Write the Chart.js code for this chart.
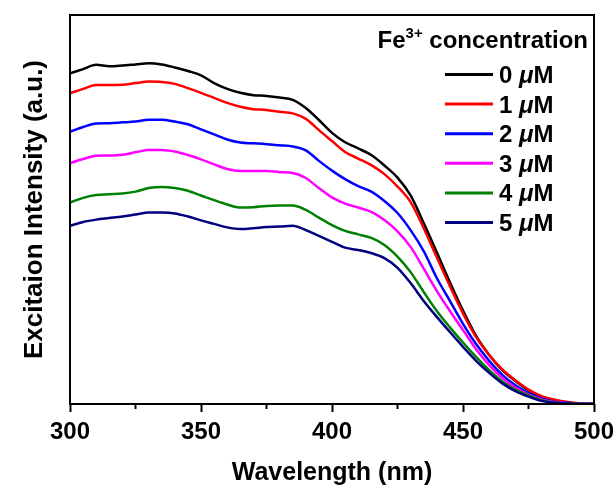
<!DOCTYPE html>
<html>
<head>
  <title>Fe3+ excitation spectra</title>
  <script src="https://cdn.jsdelivr.net/npm/chart.js"></script>
  <style>
    body {
      margin: 0;
      background: #ffffff;
    }
    .chart-container {
      position: relative;
      width: 614px;
      height: 486px;
    }
  </style>
</head>
<body>
  <div class="chart-container">
    <canvas id="spectraChart"></canvas>
  </div>

  <script>
    // Wavelength grid (nm)
    const wavelengths = [
      300, 305, 310, 315, 320, 325, 330, 335, 340, 345,
      350, 355, 360, 365, 370, 375, 380, 385, 390, 395,
      400, 405, 410, 415, 420, 425, 430, 435, 440, 445,
      450, 455, 460, 465, 470, 475, 480, 485, 490, 495, 500
    ];

    const xTicks = [300, 350, 400, 450, 500];
    const xMinorTicks = [325, 375, 425, 475];

    // Fe3+ concentration of each spectrum (uM)
    const concentrations = ['0', '1', '2', '3', '4', '5'];

    // Excitation intensity (a.u.) per concentration
    const fe0 = [
      85.0, 86.1, 87.2, 86.8, 87.0, 87.3, 87.6, 87.3, 86.5, 85.6,
      84.5, 82.5, 81.0, 80.0, 79.4, 79.2, 78.8, 78.2, 76.1, 73.0,
      69.7, 67.3, 65.7, 64.0, 61.3, 58.2, 53.6, 46.5, 39.0, 31.3,
      24.0, 17.5, 12.6, 8.7, 5.9, 3.5, 1.9, 1.0, 0.4, 0.1, 0
    ];
    const fe1 = [
      79.9, 81.0, 82.0, 82.0, 82.1, 82.5, 82.9, 82.8, 82.3, 81.2,
      80.0, 78.7, 77.4, 76.4, 75.8, 75.6, 75.1, 74.7, 73.3, 70.4,
      67.6, 64.8, 63.1, 61.4, 59.1, 55.9, 51.9, 45.2, 37.7, 30.3,
      23.3, 17.2, 12.6, 8.9, 6.1, 3.7, 2.0, 1.1, 0.5, 0.15, 0
    ];
    const fe2 = [
      70.0, 71.2, 72.1, 72.2, 72.4, 72.6, 73.1, 73.1, 72.6, 71.9,
      70.6, 69.3, 68.0, 67.2, 67.0, 66.8, 66.5, 66.2, 65.2, 62.5,
      60.0, 57.8, 56.0, 54.6, 52.2, 49.1, 44.7, 39.3, 32.4, 26.5,
      20.6, 15.4, 11.1, 7.5, 4.8, 2.8, 1.4, 0.6, 0.3, 0.1, 0
    ];
    const fe3 = [
      61.9, 63.0, 63.8, 63.9, 64.1, 64.7, 65.3, 65.3, 64.9, 64.0,
      62.9, 61.6, 60.4, 59.9, 59.9, 59.9, 59.6, 59.4, 58.1, 55.5,
      53.1, 51.5, 50.5, 49.4, 47.3, 44.4, 40.4, 34.8, 29.1, 23.9,
      19.0, 14.1, 10.0, 6.7, 4.2, 2.4, 1.2, 0.5, 0.2, 0.05, 0
    ];
    const fe4 = [
      51.8, 53.0, 53.7, 53.9, 54.1, 54.6, 55.5, 55.8, 55.5, 54.8,
      53.6, 52.4, 51.3, 50.5, 50.6, 50.9, 51.0, 51.0, 49.9, 47.9,
      46.0, 44.5, 43.6, 42.7, 40.9, 37.9, 33.9, 28.8, 23.9, 19.7,
      15.8, 12.1, 8.7, 5.8, 3.7, 2.2, 1.0, 0.4, 0.1, 0, 0
    ];
    const fe5 = [
      45.8, 46.8, 47.4, 47.8, 48.2, 48.7, 49.2, 49.2, 49.0, 48.2,
      47.2, 46.3, 45.4, 45.0, 45.2, 45.5, 45.6, 45.8, 44.7, 43.2,
      41.7, 40.2, 39.6, 38.8, 37.5, 35.0, 31.1, 26.5, 22.4, 18.5,
      14.7, 11.1, 8.0, 5.3, 3.3, 1.9, 0.8, 0.3, 0.1, 0, 0
    ];

    const seriesValues = [fe0, fe1, fe2, fe3, fe4, fe5];
    const seriesColors = ['#000000', '#ff0000', '#0000ff', '#ff00ff', '#008000', '#000080'];

    const FONT = "'Liberation Sans', Arial, Helvetica, sans-serif";

    // Minor ticks on the x axis plus the black box around the plot
    const framePlugin = {
      id: 'frame',
      afterDatasetsDraw(chart) {
        const { ctx, chartArea, scales } = chart;
        ctx.save();
        ctx.strokeStyle = '#000';
        ctx.lineWidth = 2;
        ctx.strokeRect(chartArea.left, chartArea.top,
          chartArea.right - chartArea.left, chartArea.bottom - chartArea.top);
        ctx.beginPath();
        xMinorTicks.forEach(v => {
          const x = scales.x.getPixelForValue(v);
          ctx.moveTo(x, chartArea.bottom);
          ctx.lineTo(x, chartArea.bottom + 5);
        });
        ctx.stroke();
        ctx.restore();
      }
    };

    // Legend with the superscript title and italic mu
    const legendBox = { lineLeft: 445, lineRight: 493, textLeft: 499, firstRow: 74.5, rowGap: 29.6, titleRight: 588, titleBase: 47.5 };

    const legendPlugin = {
      id: 'concLegend',
      afterDraw(chart) {
        const ctx = chart.ctx;
        ctx.save();
        ctx.fillStyle = '#000';
        ctx.textBaseline = 'alphabetic';

        const bold = `bold 24px ${FONT}`;
        const sup = `bold 15px ${FONT}`;
        ctx.font = bold;
        const wFe = ctx.measureText('Fe').width;
        const wRest = ctx.measureText(' concentration').width;
        ctx.font = sup;
        const wSup = ctx.measureText('3+').width;
        let x = legendBox.titleRight - (wFe + wSup + wRest);
        ctx.font = bold;
        ctx.fillText('Fe', x, legendBox.titleBase);
        x += wFe;
        ctx.font = sup;
        ctx.fillText('3+', x, legendBox.titleBase - 10);
        x += wSup;
        ctx.font = bold;
        ctx.fillText(' concentration', x, legendBox.titleBase);

        chart.data.datasets.forEach((ds, i) => {
          const y = legendBox.firstRow + i * legendBox.rowGap;
          ctx.strokeStyle = ds.borderColor;
          ctx.lineWidth = 3;
          ctx.beginPath();
          ctx.moveTo(legendBox.lineLeft, y);
          ctx.lineTo(legendBox.lineRight, y);
          ctx.stroke();

          let tx = legendBox.textLeft;
          const base = y + 8.5;
          ctx.font = bold;
          const num = concentrations[i] + ' ';
          ctx.fillText(num, tx, base);
          tx += ctx.measureText(num).width;
          ctx.font = `italic bold 24px ${FONT}`;
          ctx.fillText('\u03bc', tx, base);
          tx += ctx.measureText('\u03bc').width;
          ctx.font = bold;
          ctx.fillText('M', tx, base);
        });
        ctx.restore();
      }
    };

    const datasets = seriesValues.map((vals, i) => ({
      label: concentrations[i] + ' \u03bcM',
      data: wavelengths.map((w, j) => ({ x: w, y: vals[j] })),
      borderColor: seriesColors[i],
      borderWidth: 2.5,
      pointRadius: 0,
      cubicInterpolationMode: 'monotone',
      fill: false,
      order: seriesValues.length - i
    }));

    const ctx = document.getElementById('spectraChart').getContext('2d');
    new Chart(ctx, {
      type: 'line',
      data: { datasets },
      options: {
        responsive: true,
        maintainAspectRatio: false,
        animation: false,
        layout: { padding: { top: 15, right: 20, left: 0, bottom: 0 } },
        plugins: {
          legend: { display: false },
          tooltip: { enabled: false }
        },
        scales: {
          x: {
            type: 'linear',
            min: 300,
            max: 500,
            afterFit(scale) {
              scale.height = 82;
              scale.paddingLeft = 0;
              scale.paddingRight = 0;
            },
            afterBuildTicks(scale) { scale.ticks = xTicks.map(v => ({ value: v })); },
            grid: {
              display: true,
              drawOnChartArea: false,
              tickLength: 8,
              tickWidth: 2,
              color: '#000'
            },
            border: { display: false },
            ticks: {
              color: '#000',
              padding: 6,
              maxRotation: 0,
              font: { family: FONT, size: 24, weight: 'bold' }
            },
            title: {
              display: true,
              text: 'Wavelength (nm)',
              color: '#000',
              padding: { top: 0, bottom: -2 },
              font: { family: FONT, size: 25, weight: 'bold' }
            }
          },
          y: {
            min: 0,
            max: 100,
            afterFit(scale) { scale.width = 70; },
            grid: { display: false },
            border: { display: false },
            ticks: { display: false },
            title: {
              display: true,
              text: 'Excitaion Intensity (a.u.)',
              color: '#000',
              padding: { top: 19, bottom: 0 },
              font: { family: FONT, size: 26, weight: 'bold' }
            }
          }
        }
      },
      plugins: [framePlugin, legendPlugin]
    });
  </script>
</body>
</html>
